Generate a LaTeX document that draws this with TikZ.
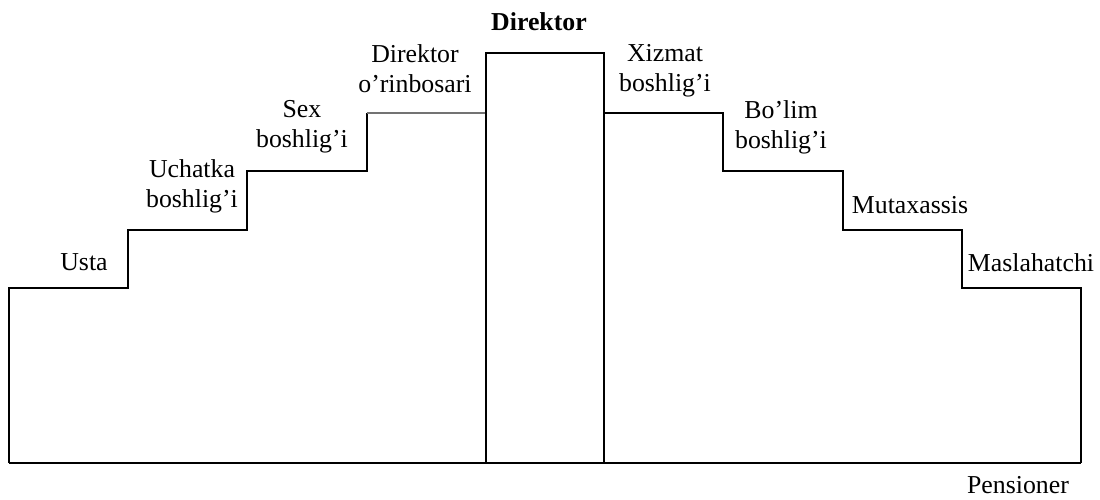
\documentclass[tikz,border=0pt]{standalone}
\usepackage{fontspec}
\setmainfont{Liberation Serif}
\begin{document}
\begin{tikzpicture}[x=1pt,y=-1pt,
  stair/.style={line width=1.6pt, line join=miter},
  lbl/.style={inner sep=0pt, align=center, font=\fontsize{25.8}{30}\selectfont}]
\useasboundingbox (0,0) rectangle (1100,499);
% outline
\draw[stair] (9,463) -- (9,288) -- (128,288) -- (128,230) -- (247,230) -- (247,171)
  -- (367,171) -- (367,113);
\draw[line width=1.2pt, black!55] (367,113) -- (486,113);
\draw[stair] (486,463) -- (486,53) -- (604,53) -- (604,463);
\draw[stair] (604,113) -- (723,113) -- (723,171) -- (843,171) -- (843,230)
  -- (962,230) -- (962,288) -- (1081,288) -- (1081,463);
\draw[stair] (9,463) -- (1081,463);
% labels
\node[lbl, font=\fontsize{25.8}{30}\selectfont\bfseries] (dir) at (539,22) {Direktor};
\node[lbl] (usta) at (84,262) {Usta};
\node[lbl] (uch) at (192,186) {Uchatka\\boshlig'i};
\node[lbl] (sex) at (302,127) {Sex\\boshlig'i};
\node[lbl] (dorin) at (415,69) {Direktor\\o'rinbosari};
\node[lbl] (xiz) at (665,71) {Xizmat\\boshlig'i};
\node[lbl] (bol) at (781,127) {Bo'lim\\boshlig'i};
\node[lbl] (mut) at (910,205) {Mutaxassis};
\node[lbl] (mas) at (1031,263) {Maslahatchi};
\node[lbl] (pen) at (1018,485) {Pensioner};
\end{tikzpicture}
\end{document}
